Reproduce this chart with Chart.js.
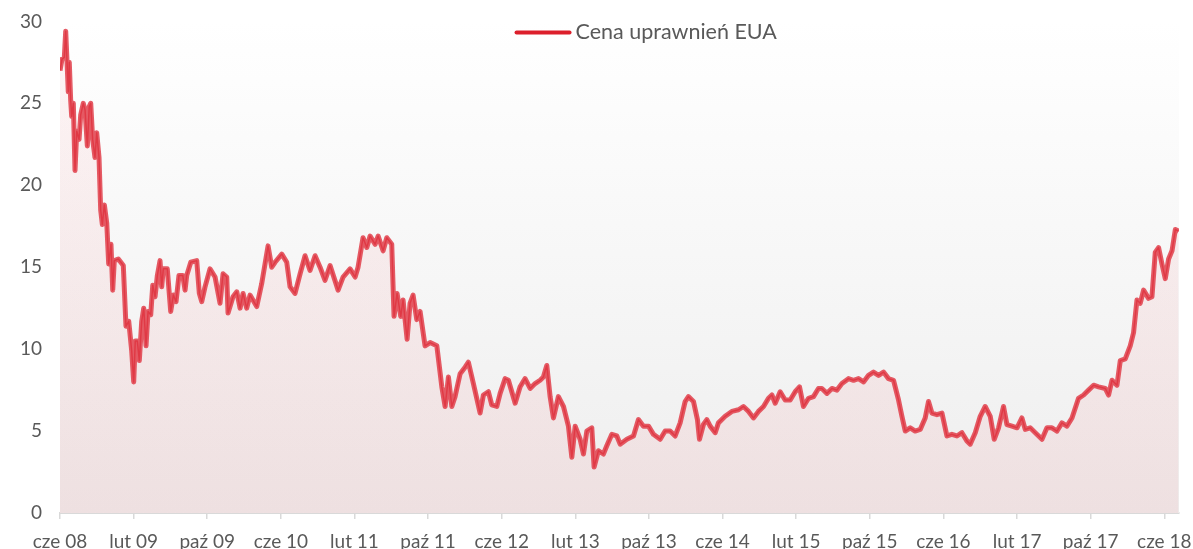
<!DOCTYPE html>
<html>
<head>
<meta charset="utf-8">
<script src="https://cdn.jsdelivr.net/npm/chart.js@4"></script>
<style>
  html, body { margin: 0; padding: 0; background: #ffffff; }
  #wrap { width: 1193px; height: 549px; }
</style>
</head>
<body>
<div id="wrap"><canvas id="euaChart" width="1193" height="549"></canvas></div>
<script>
// Tick labels, one every 8 months starting June 2008
const tickLabels = ['cze 08', 'lut 09', 'paź 09', 'cze 10', 'lut 11', 'paź 11', 'cze 12', 'lut 13',
    'paź 13', 'cze 14', 'lut 15', 'paź 15', 'cze 16', 'lut 17', 'paź 17', 'cze 18'];

// Months elapsed since the start of June 2008
const months = [
    0.00, 0.22, 0.47, 0.62, 0.76, 0.90, 1.01, 1.16, 1.27, 1.45, 1.63, 1.82, 2.07, 2.25, 2.53, 2.72,
    2.97, 3.18, 3.34, 3.55, 3.80, 3.99, 4.24, 4.42, 4.60, 4.82, 5.08, 5.29, 5.54, 5.73, 5.90, 6.34,
    6.88, 7.17, 7.47, 7.79, 8.01, 8.18, 8.40, 8.62, 8.88, 9.10, 9.35, 9.57, 9.86, 10.08, 10.33, 10.58,
    10.87, 11.05, 11.23, 11.66, 12.03, 12.32, 12.61, 12.93, 13.34, 13.59, 13.77, 14.21, 14.86, 15.14,
    15.40, 15.76, 16.30, 16.85, 17.39, 17.72, 18.12, 18.26, 18.80, 19.21, 19.57, 19.89, 20.29, 20.65,
    21.38, 21.92, 22.61, 23.01, 23.37, 24.10, 24.64, 25.00, 25.54, 26.09, 26.63, 27.17, 27.72, 28.26,
    28.80, 29.35, 30.22, 30.76, 31.52, 32.07, 32.39, 32.93, 33.34, 33.70, 34.24, 34.57, 35.11, 35.51,
    36.05, 36.30, 36.63, 37.03, 37.28, 37.72, 38.04, 38.37, 38.77, 39.13, 39.67, 40.22, 40.95, 41.49,
    41.85, 42.21, 42.58, 42.93, 43.48, 44.02, 44.38, 44.92, 45.65, 46.01, 46.55, 46.92, 47.47, 47.83,
    48.37, 48.73, 49.46, 50.00, 50.54, 51.09, 51.63, 52.17, 52.53, 52.90, 53.26, 53.62, 54.16, 54.71,
    55.25, 55.62, 55.98, 56.52, 56.88, 57.25, 57.79, 58.04, 58.51, 59.05, 59.42, 59.97, 60.51, 60.87,
    61.60, 62.32, 62.86, 63.40, 63.95, 64.49, 65.22, 65.76, 66.30, 66.85, 67.39, 67.93, 68.29, 68.84,
    69.27, 69.49, 69.92, 70.29, 70.65, 71.20, 71.55, 72.28, 73.01, 73.73, 74.27, 74.82, 75.36, 75.90,
    76.45, 76.99, 77.36, 77.72, 78.26, 78.80, 79.35, 79.89, 80.36, 80.79, 81.34, 81.88, 82.42, 82.79,
    83.34, 83.88, 84.42, 84.97, 85.68, 86.23, 86.77, 87.32, 87.86, 88.40, 88.95, 89.49, 90.03, 90.58,
    91.12, 91.49, 91.85, 92.39, 92.93, 93.48, 94.02, 94.38, 94.75, 95.29, 95.84, 96.38, 96.92, 97.47,
    98.01, 98.55, 98.91, 99.46, 100.00, 100.54, 101.09, 101.52, 101.99, 102.53, 102.90, 103.45, 104.00,
    104.53, 104.89, 105.43, 105.98, 106.71, 107.25, 107.79, 108.34, 108.88, 109.42, 109.97, 110.68,
    111.23, 111.77, 112.32, 112.86, 113.59, 113.95, 114.32, 114.86, 115.22, 115.76, 116.30, 116.66,
    117.03, 117.39, 117.75, 118.29, 118.66, 119.02, 119.38, 119.75, 120.11, 120.47, 120.84, 121.20, 121.55
];

// EUA price (EUR/t)
const prices = [
    27.0, 27.7, 27.8, 29.4, 27.6, 25.7, 27.5, 25.2, 24.2, 25.0, 20.9, 23.3, 22.8, 24.3, 25.0, 24.6,
    22.4, 24.8, 25.0, 22.8, 21.7, 23.2, 21.7, 18.5, 17.6, 18.8, 17.7, 15.2, 16.4, 13.6, 15.4, 15.5,
    15.1, 11.4, 11.7, 9.9, 8.0, 10.5, 10.5, 9.3, 11.7, 12.5, 10.2, 12.3, 12.1, 13.9, 13.2, 14.5,
    15.4, 13.8, 14.9, 14.9, 12.3, 13.3, 12.9, 14.5, 14.5, 13.6, 14.5, 15.3, 15.4, 13.4,
    12.9, 13.8, 14.9, 14.4, 12.8, 14.6, 14.4, 12.2, 13.2, 13.5, 12.5, 13.4, 12.5, 13.3,
    12.6, 14.0, 16.3, 15.0, 15.3, 15.8, 15.3, 13.8, 13.4, 14.6, 15.7, 14.8, 15.7, 15.0,
    14.2, 15.1, 13.6, 14.4, 14.9, 14.4, 15.0, 16.8, 16.2, 16.9, 16.4, 16.9, 16.0, 16.8,
    16.4, 12.0, 13.4, 12.0, 13.0, 10.6, 12.8, 13.3, 11.8, 12.3, 10.2, 10.4, 10.2, 7.7,
    6.5, 8.3, 6.5, 7.1, 8.5, 8.9, 9.2, 7.9, 6.1, 7.2, 7.4, 6.6, 6.5, 7.3,
    8.2, 8.1, 6.7, 7.7, 8.2, 7.6, 7.9, 8.1, 8.3, 9.0, 7.1, 5.8, 7.1, 6.5,
    5.3, 3.4, 5.3, 4.5, 3.6, 5.0, 5.2, 2.8, 3.8, 3.6, 4.1, 4.8, 4.7, 4.2,
    4.5, 4.7, 5.7, 5.3, 5.3, 4.8, 4.5, 5.0, 5.0, 4.7, 5.5, 6.8, 7.1, 6.8,
    5.7, 4.5, 5.4, 5.7, 5.3, 4.9, 5.5, 5.9, 6.2, 6.3, 6.5, 6.2, 5.8, 6.2,
    6.5, 7.0, 7.2, 6.7, 7.4, 6.9, 6.9, 7.4, 7.7, 6.5, 7.0, 7.1, 7.6, 7.6,
    7.3, 7.6, 7.5, 7.9, 8.2, 8.1, 8.2, 8.0, 8.4, 8.6, 8.4, 8.6, 8.2, 8.1,
    6.9, 5.9, 5.0, 5.2, 5.0, 5.1, 5.8, 6.8, 6.1, 6.0, 6.1, 4.7, 4.8, 4.7,
    4.9, 4.4, 4.2, 4.9, 5.9, 6.5, 5.9, 4.5, 5.2, 6.5, 5.4, 5.3, 5.2,
    5.8, 5.1, 5.2, 4.9, 4.5, 5.2, 5.2, 5.0, 5.5, 5.3, 5.8, 7.0,
    7.2, 7.5, 7.8, 7.7, 7.6, 7.2, 8.1, 7.8, 9.3, 9.4, 10.2, 11.0,
    13.0, 12.8, 13.6, 13.1, 13.2, 15.9, 16.2, 15.2, 14.3, 15.5, 16.0, 17.3, 17.2
];

const seriesLabel = 'Cena uprawnień EUA';
const points = months.map((m, i) => ({ x: m, y: prices[i] }));
const textColor = '#595959';
const fontFamily = 'Lato, "Open Sans", sans-serif';

// Light grey gradient behind the plot area
const plotBackground = {
    id: 'plotBackground',
    beforeDatasetsDraw(chart) {
        const { ctx, chartArea: a } = chart;
        const g = ctx.createLinearGradient(0, a.top, 0, a.bottom);
        g.addColorStop(0, '#ffffff');
        g.addColorStop(1, '#eeeeee');
        ctx.save();
        ctx.fillStyle = g;
        ctx.fillRect(a.left, a.top, a.right - a.left, a.bottom - a.top);
        ctx.restore();
    }
};

// Legend sits inside the plot area, like the original
const insideLegend = {
    id: 'insideLegend',
    afterDraw(chart) {
        const { ctx, chartArea: a } = chart;
        const x0 = a.left + (a.right - a.left) * 0.408;
        const y0 = a.top + 11;
        ctx.save();
        ctx.strokeStyle = '#dc1f2b';
        ctx.lineWidth = 4;
        ctx.lineCap = 'round';
        ctx.beginPath();
        ctx.moveTo(x0, y0);
        ctx.lineTo(x0 + 53, y0);
        ctx.stroke();
        ctx.fillStyle = textColor;
        ctx.font = '21.5px ' + fontFamily;
        ctx.textBaseline = 'middle';
        ctx.fillText(seriesLabel, x0 + 59, y0);
        ctx.restore();
    }
};

function areaFill(context) {
    const a = context.chart.chartArea;
    if (!a) return 'rgba(235,60,70,0.08)';
    const g = context.chart.ctx.createLinearGradient(0, a.top, 0, a.bottom);
    g.addColorStop(0, 'rgba(240,60,70,0.05)');
    g.addColorStop(1, 'rgba(240,60,70,0.08)');
    return g;
}

const ctx = document.getElementById('euaChart').getContext('2d');
new Chart(ctx, {
    type: 'line',
    data: {
        datasets: [{
            label: seriesLabel,
            data: points,
            borderColor: 'rgba(224,62,74,0.85)',
            borderWidth: 5,
            backgroundColor: areaFill,
            fill: 'origin',
            pointRadius: 0,
            tension: 0,
            borderJoinStyle: 'round'
        }, {
            label: seriesLabel + ' (linia)',
            data: points,
            borderColor: '#dc1f2b',
            borderWidth: 1.5,
            fill: false,
            pointRadius: 0,
            tension: 0,
            borderJoinStyle: 'round'
        }]
    },
    options: {
        responsive: false,
        animation: false,
        layout: { padding: { top: 11, right: 14, left: 6, bottom: 0 } },
        plugins: {
            legend: { display: false },
            tooltip: { enabled: false }
        },
        scales: {
            x: {
                type: 'linear',
                min: 0,
                max: 121.6,
                afterBuildTicks: function (scale) {
                    scale.ticks = tickLabels.map((_, i) => ({ value: i * 8 }));
                },
                afterFit: function (scale) {
                    scale.height = 36;
                    scale.paddingLeft = 0;
                    scale.paddingRight = 0;
                },
                grid: {
                    display: true,
                    drawOnChartArea: false,
                    drawTicks: true,
                    tickLength: 6,
                    color: '#d9d9d9',
                    lineWidth: 1.5
                },
                border: { display: true, color: '#d9d9d9', width: 2 },
                ticks: {
                    autoSkip: false,
                    maxRotation: 0,
                    padding: 11,
                    color: textColor,
                    font: { family: fontFamily, size: 19 },
                    callback: function (value) {
                        return tickLabels[Math.round(value / 8)];
                    }
                }
            },
            y: {
                min: 0,
                max: 30,
                grid: { display: false },
                border: { display: false },
                afterFit: function (scale) { scale.width = 54; },
                ticks: {
                    stepSize: 5,
                    padding: 10,
                    color: textColor,
                    font: { family: fontFamily, size: 19 }
                }
            }
        }
    },
    plugins: [plotBackground, insideLegend]
});
</script>
</body>
</html>
